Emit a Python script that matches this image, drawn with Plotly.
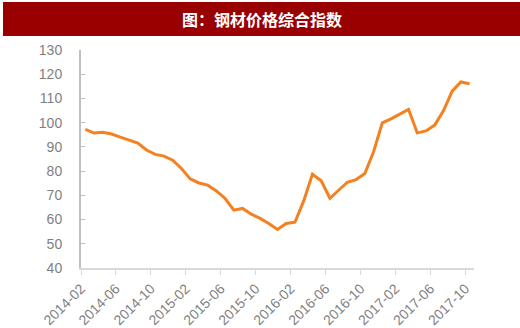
import plotly.graph_objects as go

months = []
for y in range(2014, 2018):
    for m in range(1, 13):
        months.append(f"{y}-{m:02d}")
months = months[months.index("2014-02"):months.index("2017-10") + 1]

values = [97.2, 95.7, 96.0, 95.3, 94.0, 92.8, 91.6, 88.7, 86.9, 86.2,
          84.5, 81.1, 76.8, 75.1, 74.2, 71.8, 68.7, 63.9, 64.6, 62.2,
          60.5, 58.4, 55.9, 58.4, 58.9, 67.7, 78.7, 76.0, 68.8, 72.1,
          75.4, 76.5, 79.0, 88.0, 99.9, 101.6, 103.5, 105.5, 95.8, 96.6,
          99.0, 104.9, 113.0, 116.8, 116.1]

title_text = "图：钢材价格综合指数"
y_ticks = list(range(40, 131, 10))

idx = list(range(len(months)))
tick_idx = idx[::4]

fig = go.Figure()
fig.add_trace(go.Scatter(
    x=idx, y=values, mode="lines",
    line=dict(color="#F5801F", width=3),
    hoverinfo="skip", showlegend=False,
))

W, H = 520, 328
L, R, T, B = 81, 46, 50, 60
pw, ph = W - L - R, H - T - B

def px_x(p):
    return (p - L) / pw

def px_y(p):
    return (H - B - p) / ph

fig.add_shape(type="rect", xref="paper", yref="paper",
              x0=px_x(3), x1=px_x(520), y0=px_y(36), y1=px_y(2),
              fillcolor="#990000", line=dict(width=0), layer="above")
fig.add_annotation(text=f"<b>{title_text}</b>", xref="paper", yref="paper",
                   x=px_x(262), y=px_y(19), showarrow=False,
                   font=dict(family="Noto Sans CJK SC", size=16, color="white"),
                   xanchor="center", yanchor="middle")

fig.update_layout(
    width=W, height=H,
    margin=dict(l=L, r=R, t=T, b=B, pad=0, autoexpand=False),
    paper_bgcolor="white", plot_bgcolor="white",
    font=dict(family="Liberation Sans, Arial, sans-serif", size=14, color="#7f7f7f"),
    xaxis=dict(
        range=[-0.5, len(months) - 0.5],
        tickmode="array",
        tickvals=[i - 0.5 for i in tick_idx],
        ticktext=[months[i] for i in tick_idx],
        tickangle=-45, automargin=False,
        showgrid=False, zeroline=False,
        showline=True, linecolor="#d9d9d9", linewidth=2,
        ticks="outside", ticklen=5, tickcolor="#d9d9d9", tickwidth=1,
        tickfont=dict(size=14, color="#7f7f7f"),
    ),
    yaxis=dict(
        range=[40, 130], automargin=False,
        tickmode="array", tickvals=y_ticks,
        showgrid=False, zeroline=False,
        showline=True, linecolor="#bfbfbf", linewidth=2,
        ticks="inside", ticklen=4, tickcolor="#bfbfbf", tickwidth=1,
        ticklabelstandoff=14,
        tickfont=dict(size=14, color="#7f7f7f"),
    ),
)

fig.write_html("out.html")
